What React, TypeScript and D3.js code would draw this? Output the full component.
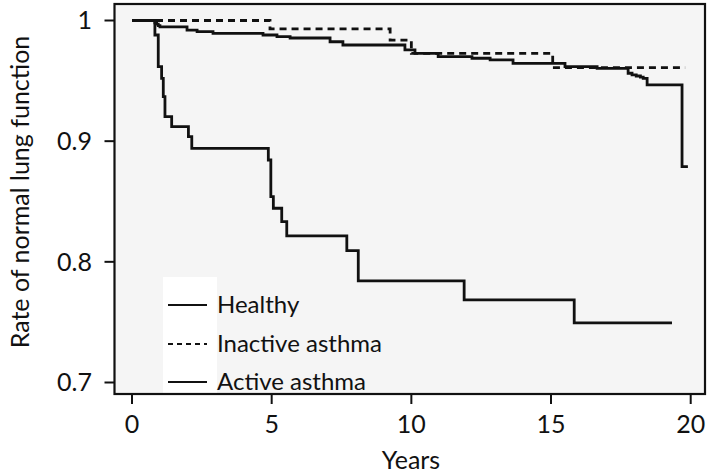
import React from 'react';
import * as d3 from 'd3';

// ---- data ----
const healthyTimes = [0, 0.82, 0.88, 0.94, 1.0, 1.97, 2.33, 2.9, 4.69, 5.19, 5.66, 7.09, 7.55, 9.77, 10.13, 10.96, 12.17, 12.82, 13.64, 15.5, 16.65, 17.76, 17.9, 18.05, 18.2, 18.3, 18.44, 19.69, 19.9];
const healthyValues = [1, 0.998, 0.997, 0.9958, 0.9948, 0.9921, 0.9907, 0.9894, 0.988, 0.9866, 0.9855, 0.9824, 0.9797, 0.9756, 0.9728, 0.97, 0.9687, 0.9673, 0.9645, 0.9617, 0.9604, 0.9563, 0.955, 0.954, 0.953, 0.9521, 0.9466, 0.8789, 0.8789];

const inactiveTimes = [0, 4.94, 9.24, 10.0, 15.06, 19.8];
const inactiveValues = [1, 0.993, 0.9838, 0.9728, 0.961, 0.961];

const activeTimes = [0, 0.82, 0.94, 1.06, 1.12, 1.18, 1.42, 2.02, 2.14, 4.88, 4.97, 5.06, 5.36, 5.54, 7.69, 8.1, 11.89, 15.83, 19.33];
const activeValues = [1, 0.988, 0.9617, 0.9521, 0.9369, 0.9203, 0.912, 0.9037, 0.8941, 0.8844, 0.854, 0.8444, 0.8333, 0.8215, 0.8093, 0.7842, 0.7685, 0.7494, 0.7494];

const seriesNames = ['Healthy', 'Inactive asthma', 'Active asthma'];
const xTicks = [0, 5, 10, 15, 20];
const yTicks = [0.7, 0.8, 0.9, 1];
const xTitle = 'Years';
const yTitle = 'Rate of normal lung function';

// ---- layout ----
const W = 709;
const H = 474;
const frame = { left: 114.5, right: 705, top: 4, bottom: 394 };
const FONT = 'Lato, Carlito, "Open Sans", sans-serif';

export default function App() {
  const x = d3.scaleLinear().domain([0, 20]).range([132, 690.7]);
  const y = d3.scaleLinear().domain([0.7, 1]).range([382.5, 20.5]);

  const line = d3
    .line<[number, number]>()
    .x((d) => x(d[0]))
    .y((d) => y(d[1]))
    .curve(d3.curveStepAfter);

  const series = [
    { name: seriesNames[0], t: healthyTimes, v: healthyValues, dash: undefined as string | undefined },
    { name: seriesNames[1], t: inactiveTimes, v: inactiveValues, dash: '7,5' },
    { name: seriesNames[2], t: activeTimes, v: activeValues, dash: undefined as string | undefined },
  ];

  const legendRowsY = [305, 344, 382];

  return (
    <svg
      width={W}
      height={H}
      viewBox={`0 0 ${W} ${H}`}
      style={{ position: 'absolute', left: 0, top: 0, background: '#ffffff' }}
    >
      <rect x={0} y={0} width={W} height={H} fill="#ffffff" />
      <rect
        x={frame.left}
        y={frame.top}
        width={frame.right - frame.left}
        height={frame.bottom - frame.top}
        fill="#f5f5f5"
      />

      {/* legend box */}
      <rect x={163} y={277} width={54} height={frame.bottom - 277} fill="#ffffff" />

      {/* curves */}
      {series.map((s) => (
        <path
          key={s.name}
          d={line(s.t.map((t, i) => [t, s.v[i]] as [number, number])) || ''}
          fill="none"
          stroke="#111"
          strokeWidth={2.8}
          strokeDasharray={s.dash}
          strokeLinejoin="miter"
        />
      ))}

      {/* frame */}
      <rect
        x={frame.left}
        y={frame.top}
        width={frame.right - frame.left}
        height={frame.bottom - frame.top}
        fill="none"
        stroke="#111"
        strokeWidth={2.2}
      />

      {/* x axis ticks */}
      {xTicks.map((t) => (
        <g key={'x' + t}>
          <line x1={x(t)} x2={x(t)} y1={frame.bottom} y2={frame.bottom + 10} stroke="#111" strokeWidth={2} />
          <text x={x(t)} y={433} textAnchor="middle" fontFamily={FONT} fontSize={25} fill="#111">
            {d3.format('d')(t)}
          </text>
        </g>
      ))}

      {/* y axis ticks */}
      {yTicks.map((v) => (
        <g key={'y' + v}>
          <line x1={frame.left - 10} x2={frame.left} y1={y(v)} y2={y(v)} stroke="#111" strokeWidth={2} />
          <text
            x={92}
            y={y(v)}
            dy="0.35em"
            textAnchor="end"
            fontFamily={FONT}
            fontSize={25}
            fill="#111"
          >
            {v === 1 ? '1' : d3.format('.1f')(v)}
          </text>
        </g>
      ))}

      {/* axis titles */}
      <text x={411} y={469} textAnchor="middle" fontFamily={FONT} fontSize={25} fill="#111">
        {xTitle}
      </text>
      <text
        transform={`translate(29,192) rotate(-90)`}
        textAnchor="middle"
        fontFamily={FONT}
        fontSize={25}
        fill="#111"
      >
        {yTitle}
      </text>

      {/* legend */}
      {series.map((s, i) => (
        <g key={'lg' + s.name}>
          <line
            x1={168}
            x2={207}
            y1={legendRowsY[i]}
            y2={legendRowsY[i]}
            stroke="#111"
            strokeWidth={2}
            strokeDasharray={s.dash ? '5,4' : undefined}
          />
          <text
            x={217}
            y={legendRowsY[i]}
            dy="0.35em"
            fontFamily={FONT}
            fontSize={24}
            fill="#111"
          >
            {s.name}
          </text>
        </g>
      ))}
    </svg>
  );
}
